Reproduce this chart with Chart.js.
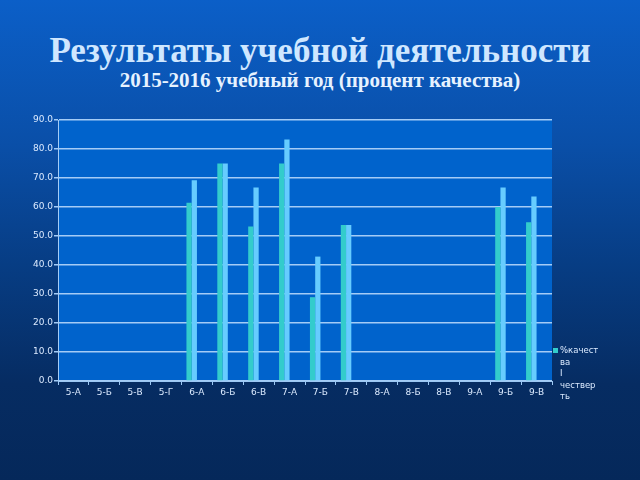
<!DOCTYPE html>
<html>
<head>
<meta charset="utf-8">
<script src="https://cdn.jsdelivr.net/npm/chart.js@4"></script>
<style>
  html, body { margin: 0; padding: 0; }
  body {
    width: 640px; height: 480px; overflow: hidden; position: relative;
    background: linear-gradient(to bottom, #0b5fc8 0%, #0a4fa8 30%, #073d84 55%, #062c62 80%, #05285a 100%);
  }
  .title {
    position: absolute; left: 0; width: 640px; text-align: center;
    font-family: "Liberation Serif", serif; font-weight: bold;
  }
  #t1 { top: 31px; font-size: 35px; color: #cfe7ff; }
  #t2 { top: 68px; font-size: 21px; color: #e6f2ff; }
  #wrap { position: absolute; left: 0; top: 0; width: 640px; height: 480px; }
</style>
</head>
<body>
<div class="title" id="t1">Результаты учебной деятельности</div>
<div class="title" id="t2">2015-2016 учебный год (процент качества)</div>
<div id="wrap"><canvas id="chart" width="640" height="480"></canvas></div>
<script>
// данные
const classes = ['5-А','5-Б','5-В','5-Г','6-А','6-Б','6-В','7-А','7-Б','7-В','8-А','8-Б','8-В','9-А','9-Б','9-В'];
const quarter1 = [null,null,null,null,61.5,75.0,53.3,75.0,28.9,53.8,null,null,null,null,60.0,54.7];
const quarter2 = [null,null,null,null,69.2,75.0,66.7,83.3,42.9,53.8,null,null,null,null,66.7,63.6];
const quarter3 = [null,null,null,null,null,null,null,null,null,null,null,null,null,null,null,null];
const quarter4 = [null,null,null,null,null,null,null,null,null,null,null,null,null,null,null,null];
const legendLines = ['%качест','ва','I','чествер','ть'];

const tickFont = { family: 'DejaVu Sans', size: 9 };
const textColor = '#dbeaff';

// фон области построения + легенда
const plotBg = {
    id: 'plotBg',
    beforeDraw(c) {
        const a = c.chartArea;
        const ctx = c.ctx;
        ctx.save();
        ctx.fillStyle = '#0063cc';
        ctx.fillRect(a.left, a.top, a.right - a.left, a.bottom - a.top);
        ctx.restore();
    },
    afterDraw(c) {
        const ctx = c.ctx;
        const a = c.chartArea;
        ctx.save();
        ctx.fillStyle = '#33cccc';
        ctx.fillRect(a.right + 1, 348, 5, 5);
        ctx.font = '8.5px "DejaVu Sans"';
        ctx.fillStyle = textColor;
        ctx.textBaseline = 'middle';
        legendLines.forEach(function(line, i) {
            ctx.fillText(line, a.right + 8, 351 + i * 11.5);
        });
        ctx.restore();
    }
};

const ctx = document.getElementById('chart').getContext('2d');
const chart = new Chart(ctx, {
    type: 'bar',
    data: {
        labels: classes,
        datasets: [
            { label: '%качества I четверть', data: quarter1, backgroundColor: '#33cccc' },
            { label: '%качества II четверть', data: quarter2, backgroundColor: '#66ccff' },
            { label: '%качества III четверть', data: quarter3, backgroundColor: '#3399ff' },
            { label: '%качества IV четверть', data: quarter4, backgroundColor: '#99ccff' }
        ]
    },
    options: {
        responsive: false,
        animation: false,
        categoryPercentage: 0.68,
        barPercentage: 1.0,
        layout: { padding: { left: 0, right: 88, top: 120, bottom: 0 } },
        plugins: {
            legend: { display: false },
            tooltip: { enabled: false }
        },
        scales: {
            x: {
                afterFit(s) { s.height = 99; },
                grid: {
                    drawOnChartArea: false,
                    color: '#9cc8f4',
                    tickLength: 4,
                    offset: true
                },
                border: { color: '#9cc8f4', width: 1 },
                ticks: { font: tickFont, color: textColor, padding: 2, maxRotation: 0, autoSkip: false }
            },
            y: {
                min: 0,
                max: 90,
                afterFit(s) { s.width = 58; },
                grid: { color: '#a4ccf6', lineWidth: 1.5, tickLength: 4 },
                border: { color: '#a4ccf6', width: 1 },
                ticks: {
                    stepSize: 10,
                    font: tickFont,
                    color: textColor,
                    padding: 1,
                    callback: function(v) { return v.toFixed(1); }
                }
            }
        }
    },
    plugins: [plotBg]
});
</script>
</body>
</html>
